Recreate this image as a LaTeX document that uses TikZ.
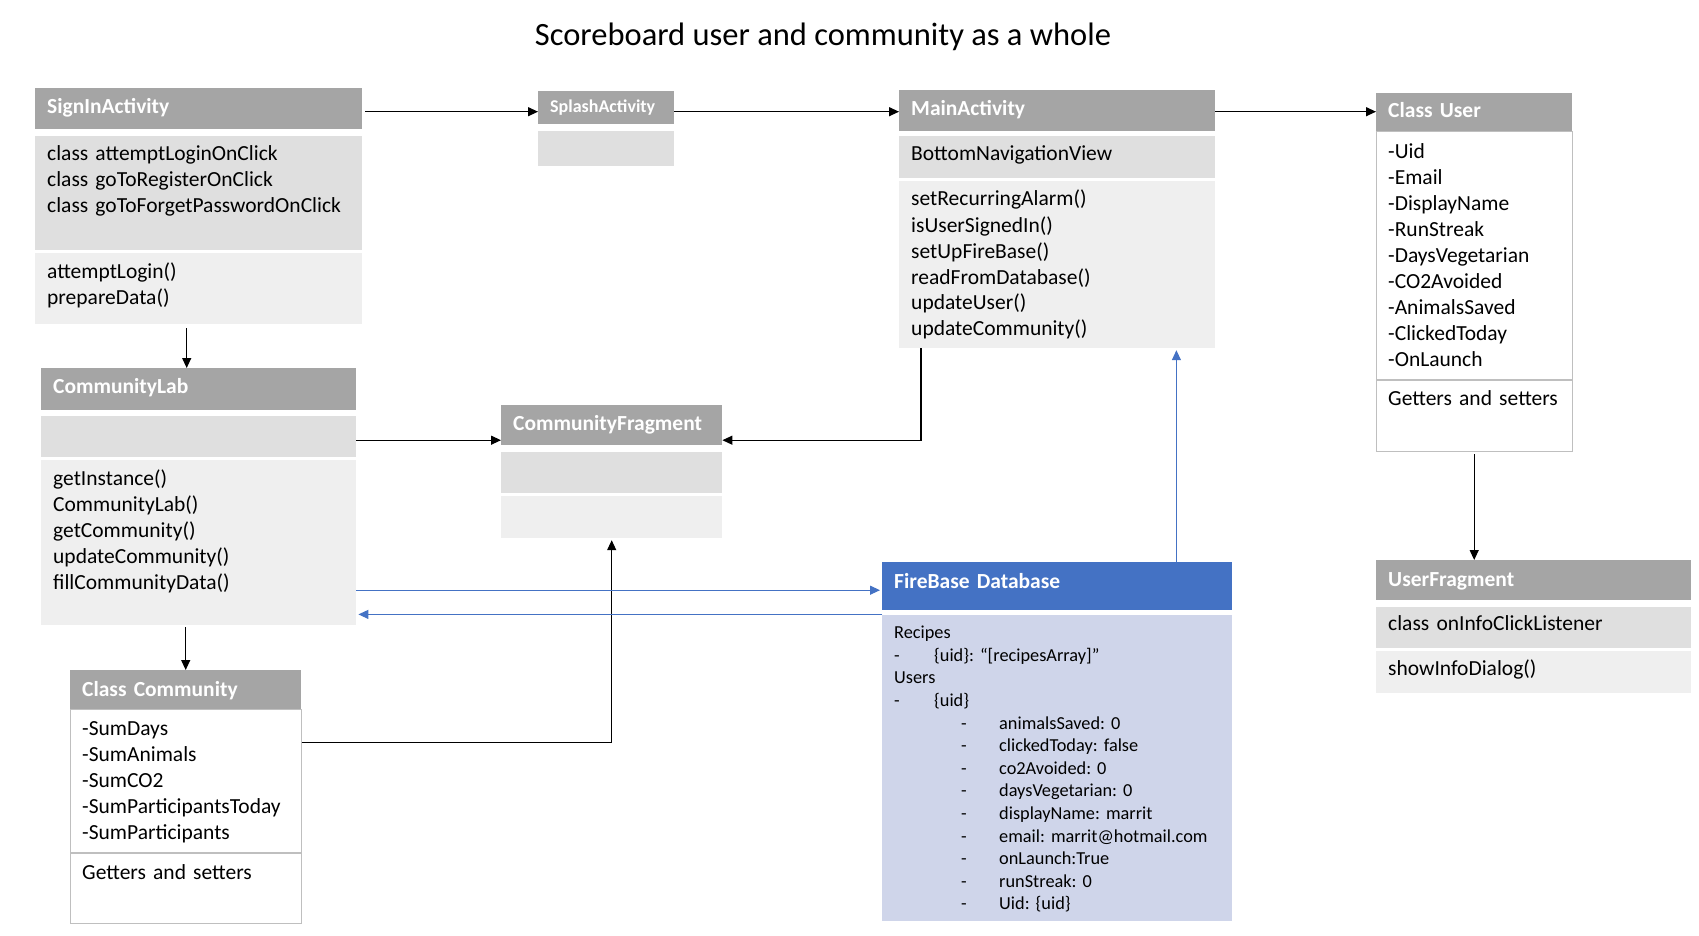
\documentclass[tikz,border=0pt]{standalone}
\usepackage{fontspec}
\setmainfont{Carlito}
\usetikzlibrary{arrows.meta,positioning,calc}

\definecolor{hdrgray}{HTML}{A5A5A5}
\definecolor{attrgray}{HTML}{DFDFDF}
\definecolor{methgray}{HTML}{EFEFEF}
\definecolor{linegray}{HTML}{BFBFBF}
\definecolor{dbblue}{HTML}{4472C4}
\definecolor{dblight}{HTML}{CFD5EA}

\newcommand{\umlfont}{\fontsize{21.5}{26}\selectfont}
\newcommand{\smallhdrfont}{\fontsize{18}{20}\selectfont}
\newcommand{\dbfont}{\fontsize{18.3}{22.6}\selectfont}
\newcommand{\titlefont}{\fontsize{32.5}{38}\selectfont}
\frenchspacing

\begin{document}
\begin{tikzpicture}[
    x=1pt, y=-1pt,
    box/.style={rectangle, anchor=north west, align=left, inner xsep=12pt, inner ysep=0pt, font=\umlfont},
    hdr/.style={box, fill=hdrgray, text=white, font=\umlfont\bfseries},
    attr/.style={box, fill=attrgray},
    meth/.style={box, fill=methgray},
    plain/.style={box, draw=linegray, line width=1pt, fill=white},
    arrow/.style={-{Triangle[length=10pt,width=9pt]}, line width=1.2pt},
    dbarrow/.style={arrow, draw=dbblue, fill=dbblue}
]
\useasboundingbox (0,0) rectangle (1699,936);

% Title
\node[font=\titlefont] (title) at (823,37) {Scoreboard user and community as a whole};

% SignInActivity
\node[hdr, text width=303pt, text height=25pt, text depth=16pt] (signin) at (35,88) {SignInActivity};
\node[attr, text width=303pt, text height=25pt, text depth=89pt, below=6pt of signin] (signin1) {class attemptLoginOnClick\\class goToRegisterOnClick\\class goToForgetPasswordOnClick};
\node[meth, text width=303pt, text height=25pt, text depth=46pt, below=3pt of signin1] (signin2) {attemptLogin()\\prepareData()};

% SplashActivity
\node[hdr, font=\smallhdrfont\bfseries, text width=112pt, text height=21pt, text depth=12pt] (splash) at (538,91) {SplashActivity};
\node[attr, text width=112pt, text height=35pt, text depth=0pt, below=6pt of splash] (splash1) {};

% MainActivity
\node[hdr, text width=292pt, text height=25pt, text depth=16pt] (main) at (899,90) {MainActivity};
\node[attr, text width=292pt, text height=25pt, text depth=17pt, below=4pt of main] (main1) {BottomNavigationView};
\node[meth, text width=292pt, text height=25pt, text depth=142pt, below=3pt of main1] (main2) {setRecurringAlarm()\\isUserSignedIn()\\setUpFireBase()\\readFromDatabase()\\updateUser()\\updateCommunity()};

% Class User
\node[hdr, text width=172pt, text height=24pt, text depth=14pt] (user) at (1376,93) {Class User};
\node[plain, text width=172pt, text height=27pt, text depth=221pt, below=0pt of user] (userattr) {-Uid\\-Email\\-DisplayName\\-RunStreak\\-DaysVegetarian\\-CO2Avoided\\-AnimalsSaved\\-ClickedToday\\-OnLaunch};
\node[plain, text width=172pt, text height=25pt, text depth=46pt, below=0pt of userattr] (usermeth) {Getters and setters};

% UserFragment
\node[hdr, text width=291pt, text height=26pt, text depth=14pt] (ufrag) at (1376,560) {UserFragment};
\node[attr, text width=291pt, text height=24pt, text depth=17pt, below=6pt of ufrag] (ufrag1) {class onInfoClickListener};
\node[meth, text width=291pt, text height=24pt, text depth=18pt, below=3pt of ufrag1] (ufrag2) {showInfoDialog()};

% CommunityLab
\node[hdr, text width=291pt, text height=25pt, text depth=17pt] (clab) at (41,368) {CommunityLab};
\node[attr, text width=291pt, text height=41pt, text depth=0pt, below=5pt of clab] (clab1) {};
\node[meth, text width=291pt, text height=25pt, text depth=140pt, below=3pt of clab1] (clab2) {getInstance()\\CommunityLab()\\getCommunity()\\updateCommunity()\\fillCommunityData()};

% CommunityFragment
\node[hdr, text width=197pt, text height=25pt, text depth=15pt] (cfrag) at (501,405) {CommunityFragment};
\node[attr, text width=197pt, text height=41pt, text depth=0pt, below=6pt of cfrag] (cfrag1) {};
\node[meth, text width=197pt, text height=42pt, text depth=0pt, below=3pt of cfrag1] (cfrag2) {};

% Class Community
\node[hdr, text width=207pt, text height=26pt, text depth=13pt] (comm) at (70,670) {Class Community};
\node[plain, text width=207pt, text height=26pt, text depth=117pt, below=0pt of comm] (commattr) {-SumDays\\-SumAnimals\\-SumCO2\\-SumParticipantsToday\\-SumParticipants};
\node[plain, text width=207pt, text height=26pt, text depth=44pt, below=0pt of commattr] (commmeth) {Getters and setters};

% FireBase Database
\node[hdr, fill=dbblue, text width=326pt, text height=26pt, text depth=22pt] (fb) at (882,562) {FireBase Database};
\node[box, fill=dblight, font=\dbfont, text width=326pt, text height=24pt, text depth=282pt, below=4pt of fb] (fbbody) {Recipes\\
\makebox[40pt][l]{-}\{uid\}: “[recipesArray]”\\
Users\\
\makebox[40pt][l]{-}\{uid\}\\
\hspace*{67pt}\makebox[38pt][l]{-}animalsSaved: 0\\
\hspace*{67pt}\makebox[38pt][l]{-}clickedToday: false\\
\hspace*{67pt}\makebox[38pt][l]{-}co2Avoided: 0\\
\hspace*{67pt}\makebox[38pt][l]{-}daysVegetarian: 0\\
\hspace*{67pt}\makebox[38pt][l]{-}displayName: marrit\\
\hspace*{67pt}\makebox[38pt][l]{-}email: marrit@hotmail.com\\
\hspace*{67pt}\makebox[38pt][l]{-}onLaunch:True\\
\hspace*{67pt}\makebox[38pt][l]{-}runStreak: 0\\
\hspace*{67pt}\makebox[38pt][l]{-}Uid: \{uid\}};

% Arrows
\draw[arrow, shorten <=3pt] ([yshift=-3pt]signin.east) -- ([yshift=-3pt]signin.east -| splash.west);
\draw[arrow] ([yshift=-4pt]splash.east) -- ([yshift=-4pt]splash.east -| main.west);
\draw[arrow] ([yshift=-1pt]main.east) -- ([yshift=-1pt]main.east -| user.west);
\draw[arrow, shorten <=4pt] ([xshift=-12pt]signin2.south) -- ([xshift=-12pt]signin2.south |- clab.north);
\draw[arrow] ([yshift=-15pt]cfrag.west -| clab1.east) -- ([yshift=-15pt]cfrag.west);
\draw[arrow] ([xshift=22pt]main2.south west) |- ([yshift=-15pt]cfrag.east);
\draw[arrow, shorten >=2pt] ([yshift=-33pt]commattr.north east) -| (cfrag2.south);
\draw[arrow, shorten <=2pt] (comm.north |- clab2.south) -- (comm.north);
\draw[arrow, shorten <=2pt] (usermeth.south) -- (usermeth.south |- ufrag.north);

% FireBase links
\draw[dbarrow, shorten >=2pt] ([yshift=-4pt]fb.west -| clab2.east) -- ([yshift=-4pt]fb.west);
\draw[dbarrow, shorten >=2pt] (fbbody.north west) -- (fbbody.north west -| clab2.east);
\draw[dbarrow, shorten >=2pt] ([xshift=-56pt]fb.north east) -- ([xshift=-56pt]fb.north east |- main2.south);

\end{tikzpicture}
\end{document}
